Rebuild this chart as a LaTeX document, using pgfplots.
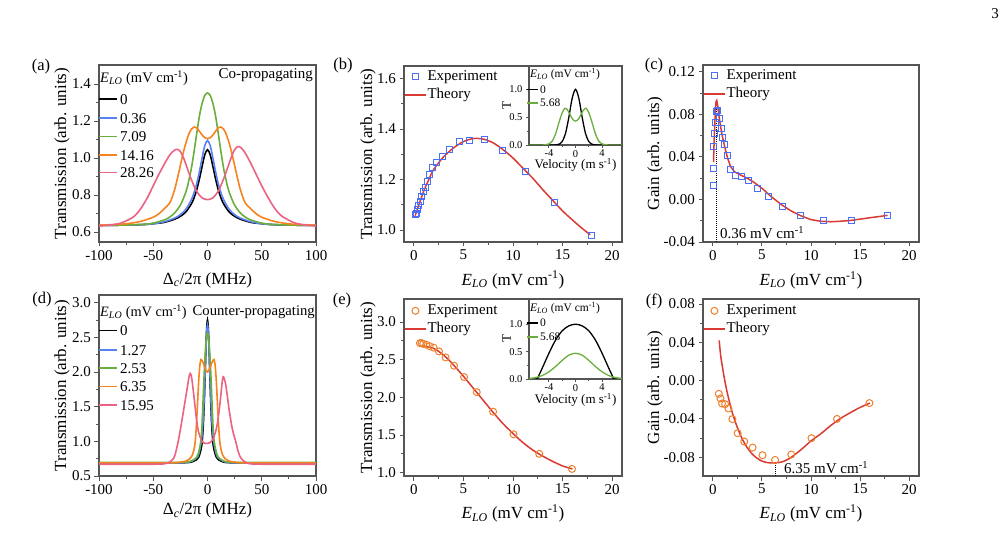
\documentclass[border=0pt]{standalone}
\usepackage{fontspec}
\setmainfont{Liberation Serif}
\usepackage{pgfplots}
\pgfplotsset{compat=1.18}

\definecolor{cblue}{HTML}{5B82F5}
\definecolor{cgreen}{HTML}{6AAE3C}
\definecolor{corange}{HTML}{F7831F}
\definecolor{cpink}{HTML}{EB6283}
\definecolor{cred}{HTML}{D93A32}
\definecolor{sqblue}{HTML}{4C6EF2}
\definecolor{circor}{HTML}{EE7F2C}
\definecolor{frame}{HTML}{555555}

\newcommand{\ELO}{\textit{E}\textsubscript{\textit{LO}}}
\newcommand{\unitE}{(mV cm\textsuperscript{-1})}
\newcommand{\tks}{\fontsize{15}{18}\selectfont}
\newcommand{\lbs}{\fontsize{17}{20}\selectfont}
\newcommand{\ins}{\fontsize{10.5}{12}\selectfont}

\pgfplotsset{
  myaxis/.style={
    scale only axis,
    axis line style={draw=frame, line width=1.1pt},
    tick style={draw=frame, line width=0.9pt},
    tick align=outside,
    xtick pos=bottom, ytick pos=left,
    major tick length=4.5pt, minor tick length=2.6pt,
    minor x tick num=1, minor y tick num=1,
    tick label style={font=\tks},
    scaled ticks=false,
    /pgf/number format/assume math mode=true,
  },
  ylab/.style={every axis y label/.style={at={(axis description cs:#1,0.5)}, rotate=90, anchor=center, font=\lbs}},
  xlab/.style={every axis x label/.style={at={(axis description cs:0.5,#1)}, anchor=center, font=\lbs}},
  yfmt/.style={yticklabel style={/pgf/number format/fixed, /pgf/number format/fixed zerofill, /pgf/number format/precision=#1}},
  mylegend/.style={legend style={at={(axis description cs:0,#1)}, anchor=north west, draw=none, fill=none,
      font=\tks, inner sep=0pt, row sep=3pt,
      nodes={inner sep=0.8pt, text height=10.5pt, text depth=3pt},
      /tikz/every even column/.style={column sep=2pt}},
    legend cell align=left,
    legend image code/.code={\draw[mark repeat=2,mark phase=2,##1] plot coordinates {(1pt,0pt) (11.5pt,0pt) (22pt,0pt)};}},
  inset/.style={myaxis, axis background/.style={fill=white},
    xmin=-7, xmax=7, xtick={-4,0,4}, ytick={0,0.5,1},
    major tick length=3pt, minor tick length=1.8pt,
    tick label style={font=\ins},
    xticklabel style={yshift=1.5pt},
    yfmt=1, ylabel={T}, xlabel={Velocity (m s\textsuperscript{-1})}},
}

\begin{document}
\begin{tikzpicture}
\path[use as bounding box] (0pt,0pt) rectangle (1006pt,549pt);

% ---------------- (a) ----------------
\begin{axis}[myaxis, at={(99pt,307pt)}, anchor=south west, width=217pt, height=177pt,
  xmin=-100, xmax=100, ymin=0.546, ymax=1.503,
  xtick={-100,-50,0,50,100}, ytick={0.6,0.8,1.0,1.2,1.4}, yfmt=1,
  ylab=-0.17, xlab=-0.215,
  ylabel={Transmission (arb. units)}, xlabel={Δ\textsubscript{\textit{c}}/2π (MHz)}]
\addplot[color=black, line width=1.6pt, smooth] coordinates {(-100,0.636) (-80,0.637) (-60,0.640) (-50,0.645) (-40,0.652) (-30,0.670) (-25,0.685) (-20,0.708) (-15,0.751) (-12.5,0.783) (-10,0.827) (-7.5,0.886) (-5,0.954) (-2.5,1.018) (0,1.045) (2.5,1.018) (5,0.954) (7.5,0.886) (10,0.827) (12.5,0.783) (15,0.751) (20,0.708) (25,0.685) (30,0.670) (40,0.652) (50,0.645) (60,0.640) (80,0.637) (100,0.636)};
\addplot[color=cblue, line width=1.6pt, smooth] coordinates {(-100,0.636) (-80,0.637) (-60,0.640) (-50,0.645) (-40,0.655) (-30,0.676) (-25,0.694) (-20,0.722) (-15,0.773) (-12.5,0.810) (-10,0.860) (-7.5,0.925) (-5,1.000) (-2.5,1.067) (0,1.095) (2.5,1.067) (5,1.000) (7.5,0.925) (10,0.860) (12.5,0.810) (15,0.773) (20,0.722) (25,0.694) (30,0.676) (40,0.655) (50,0.645) (60,0.640) (80,0.637) (100,0.636)};
\addplot[color=cgreen, line width=1.6pt, smooth] coordinates {(-100,0.636) (-80,0.637) (-60,0.641) (-50,0.648) (-40,0.665) (-35,0.680) (-30,0.705) (-25,0.745) (-20,0.815) (-17.5,0.870) (-15,0.940) (-12.5,1.030) (-10,1.130) (-7.5,1.225) (-5,1.295) (-2.5,1.338) (0,1.352) (2.5,1.338) (5,1.295) (7.5,1.225) (10,1.130) (12.5,1.030) (15,0.940) (17.5,0.870) (20,0.815) (25,0.745) (30,0.705) (35,0.680) (40,0.665) (50,0.648) (60,0.641) (80,0.637) (100,0.636)};
\addplot[color=corange, line width=1.6pt, smooth] coordinates {(-100,0.637) (-80,0.642) (-70,0.648) (-60,0.660) (-50,0.680) (-45,0.698) (-40,0.725) (-35,0.755) (-32.5,0.790) (-30,0.835) (-27.5,0.895) (-25,0.960) (-22.5,1.025) (-20,1.080) (-17.5,1.125) (-15,1.155) (-12,1.168) (-10,1.163) (-7.5,1.145) (-5,1.125) (-2.5,1.110) (0,1.105) (2.5,1.110) (5,1.125) (7.5,1.145) (10,1.163) (12,1.168) (15,1.155) (17.5,1.125) (20,1.080) (22.5,1.025) (25,0.960) (27.5,0.895) (30,0.835) (32.5,0.790) (35,0.755) (40,0.725) (45,0.698) (50,0.680) (60,0.660) (70,0.648) (80,0.642) (100,0.637)};
\addplot[color=cpink, line width=1.6pt, smooth] coordinates {(-100,0.632) (-90,0.638) (-80,0.648) (-70,0.675) (-65,0.700) (-60,0.740) (-55,0.790) (-50,0.850) (-45,0.910) (-40,0.965) (-35,1.015) (-31,1.040) (-28,1.047) (-25,1.035) (-22,1.000) (-19,0.950) (-15,0.885) (-10,0.820) (-5,0.785) (0,0.775) (5,0.785) (10,0.822) (15,0.890) (19,0.955) (22,1.005) (25,1.045) (28,1.062) (31,1.055) (35,1.025) (40,0.970) (45,0.910) (50,0.850) (55,0.795) (60,0.745) (65,0.705) (70,0.680) (80,0.650) (90,0.638) (100,0.632)};
\end{axis}

% ---------------- (b) ----------------
\begin{axis}[myaxis, at={(404pt,307pt)}, anchor=south west, width=218pt, height=176pt,
  xmin=-1, xmax=21, ymin=0.953, ymax=1.649,
  xtick={0,5,10,15,20}, ytick={1.0,1.2,1.4,1.6}, yfmt=1,
  ylab=-0.165, xlab=-0.215,
  ylabel={Transmission (arb. units)}, xlabel={\ELO{} \unitE},
  mylegend=0.983]
\addplot[only marks, color=sqblue, mark=square, mark size=3pt, mark options={line width=1pt, color=sqblue}] coordinates {
(0.17,1.062) (0.30,1.066) (0.40,1.081) (0.50,1.099) (0.64,1.112) (0.77,1.132) (0.94,1.151) (1.14,1.169) (1.38,1.194) (1.58,1.221) (1.85,1.248) (2.26,1.266) (2.93,1.290) (3.60,1.320) (4.58,1.349) (5.62,1.356) (7.14,1.359) (8.99,1.314) (11.28,1.231) (14.20,1.111) (17.90,0.979)};
\addlegendentry{Experiment}
\addplot[color=cred, line width=1.5pt, smooth] coordinates {
(0.13,1.057) (0.5,1.100) (1,1.155) (1.5,1.200) (2,1.240) (3,1.290) (4,1.325) (5,1.350) (6,1.362) (7,1.360) (8,1.345) (9,1.318) (10,1.285) (11,1.245) (12,1.205) (13,1.160) (14,1.118) (15,1.076) (16,1.040) (17,1.006) (17.8,0.982)};
\addlegendentry{Theory}
\end{axis}

% inset (b)
\begin{axis}[inset, at={(529pt,404pt)}, anchor=south west, width=93pt, height=79pt,
  ymin=0, ymax=1.42,
  ylab=-0.24, xlab=-0.255,
  ylabel style={font=\fontsize{13}{15}\selectfont}, xlabel style={font=\fontsize{13}{15}\selectfont}]
\addplot[color=black, line width=1.3pt, smooth] coordinates {(-7,0) (-3.5,0) (-3,0.002) (-2.5,0.013) (-2,0.063) (-1.5,0.21) (-1,0.50) (-0.5,0.84) (0,1.0) (0.5,0.84) (1,0.50) (1.5,0.21) (2,0.063) (2.5,0.013) (3,0.002) (3.5,0) (7,0)};
\addplot[color=cgreen, line width=1.3pt, smooth] coordinates {(-7,0) (-5,0) (-4.5,0.005) (-4,0.02) (-3.5,0.07) (-3,0.2) (-2.5,0.4) (-2,0.58) (-1.6,0.66) (-1.2,0.63) (-0.8,0.54) (-0.4,0.46) (0,0.43) (0.4,0.46) (0.8,0.54) (1.2,0.63) (1.6,0.66) (2,0.58) (2.5,0.4) (3,0.2) (3.5,0.07) (4,0.02) (4.5,0.005) (5,0) (7,0)};
\end{axis}

% ---------------- (c) ----------------
\begin{axis}[myaxis, at={(703pt,307pt)}, anchor=south west, width=216pt, height=177pt,
  xmin=-1, xmax=21, ymin=-0.04, ymax=0.1263,
  xtick={0,5,10,15,20}, ytick={-0.04,0,0.04,0.08,0.12}, yfmt=2,
  ylab=-0.222, xlab=-0.215,
  ylabel={Gain (arb. units)}, xlabel={\ELO{} \unitE},
  mylegend=0.983]
\addplot[only marks, color=sqblue, mark=square, mark size=3pt, mark options={line width=1pt, color=sqblue}] coordinates {
(0.1,0.013) (0.1,0.0288) (0.1,0.0497) (0.17,0.0622) (0.27,0.0722) (0.34,0.0822) (0.5,0.0831) (0.67,0.0763) (0.84,0.0663) (1.0,0.0581) (1.18,0.0519) (1.45,0.0413) (1.79,0.0284) (2.26,0.0222) (2.87,0.0216) (3.6,0.0175) (4.55,0.0106) (5.63,0.0028) (7.12,-0.0066) (8.94,-0.015) (11.23,-0.02) (14.17,-0.0194) (17.84,-0.015)};
\addlegendentry{Experiment}
\addplot[color=cred, line width=1.5pt] coordinates {
(0.07,0.035) (0.15,0.060) (0.25,0.082) (0.33,0.092) (0.4,0.093) (0.5,0.088) (0.6,0.080) (0.8,0.068) (1.0,0.058) (1.2,0.050) (1.5,0.039) (1.8,0.031) (2.2,0.026) (2.8,0.023) (3.5,0.020) (4.2,0.016) (5,0.0105) (5.9,0.003) (7,-0.005) (8,-0.011) (9,-0.0155) (10,-0.019) (11,-0.0205) (12,-0.021) (13,-0.0205) (14,-0.0198) (15,-0.0185) (16,-0.0172) (17,-0.016) (17.8,-0.015)};
\addlegendentry{Theory}
\addplot[color=black, line width=1pt, densely dotted, forget plot] coordinates {(0.36,-0.04) (0.36,0.085)};
\end{axis}

% ---------------- (d) ----------------
\begin{axis}[myaxis, at={(99pt,73pt)}, anchor=south west, width=217pt, height=181pt,
  xmin=-100, xmax=100, ymin=0.5, ymax=3.11,
  xtick={-100,-50,0,50,100}, ytick={0.5,1.0,1.5,2.0,2.5,3.0}, yfmt=1,
  ylab=-0.17, xlab=-0.19,
  ylabel={Transmission (arb. units)}, xlabel={Δ\textsubscript{\textit{c}}/2π (MHz)}]
\addplot[color=black, line width=1.6pt, smooth] coordinates {(-100,0.69) (-50,0.69) (-30,0.69) (-20,0.692) (-15,0.70) (-10,0.735) (-8,0.775) (-6,0.88) (-5,0.98) (-4,1.2) (-3,1.56) (-2,2.05) (-1,2.55) (0,2.75) (1,2.55) (2,2.05) (3,1.56) (4,1.2) (5,0.98) (6,0.88) (8,0.775) (10,0.735) (15,0.70) (20,0.692) (30,0.69) (50,0.69) (100,0.69)};
\addplot[color=cblue, line width=1.6pt, smooth] coordinates {(-100,0.69) (-30,0.69) (-20,0.695) (-15,0.71) (-10,0.76) (-8,0.82) (-6,0.97) (-5,1.1) (-4,1.32) (-3,1.65) (-2,2.08) (-1,2.5) (0,2.68) (1,2.5) (2,2.08) (3,1.65) (4,1.32) (5,1.1) (6,0.97) (8,0.82) (10,0.76) (15,0.71) (20,0.695) (30,0.69) (100,0.69)};
\addplot[color=cgreen, line width=1.6pt, smooth] coordinates {(-100,0.695) (-30,0.695) (-20,0.70) (-15,0.715) (-10,0.77) (-8,0.85) (-7,0.92) (-6,1.02) (-5,1.25) (-4,1.62) (-3,2.0) (-2,2.3) (-1,2.5) (0,2.56) (1,2.5) (2,2.3) (3,2.0) (4,1.62) (5,1.25) (6,1.02) (7,0.92) (8,0.85) (10,0.77) (15,0.715) (20,0.70) (30,0.695) (100,0.695)};
\addplot[color=corange, line width=1.6pt, smooth] coordinates {(-100,0.69) (-40,0.69) (-30,0.692) (-25,0.70) (-20,0.715) (-17,0.74) (-14,0.80) (-12,0.92) (-11,1.05) (-10,1.3) (-9,1.6) (-8,1.9) (-7,2.1) (-6,2.18) (-4.5,2.15) (-3,2.09) (-1.5,2.03) (0,2.0) (1.5,2.03) (3,2.09) (4.5,2.15) (6,2.18) (7,2.1) (8,1.9) (9,1.6) (10,1.3) (11,1.05) (12,0.92) (14,0.80) (17,0.74) (20,0.715) (25,0.70) (30,0.692) (40,0.69) (100,0.69)};
\addplot[color=cpink, line width=1.6pt, smooth] coordinates {(-100,0.67) (-50,0.67) (-40,0.675) (-35,0.70) (-31,0.76) (-29,0.86) (-27,1.0) (-25,1.17) (-22,1.45) (-19,1.74) (-17,1.93) (-16,1.98) (-15,1.95) (-14,1.85) (-12,1.58) (-10,1.3) (-8,1.12) (-5,1.0) (-2,0.97) (0,0.97) (2,0.98) (5,1.03) (8,1.17) (10,1.35) (12,1.62) (13.5,1.85) (14.5,1.93) (15.5,1.9) (17,1.80) (20,1.45) (23,1.17) (26,1.0) (28,0.87) (30,0.78) (33,0.72) (36,0.69) (40,0.675) (50,0.67) (100,0.67)};
\end{axis}

% ---------------- (e) ----------------
\begin{axis}[myaxis, at={(404pt,73pt)}, anchor=south west, width=218pt, height=177pt,
  xmin=-1, xmax=21, ymin=0.956, ymax=3.306,
  xtick={0,5,10,15,20}, ytick={1.0,1.5,2.0,2.5,3.0}, yfmt=1,
  ylab=-0.165, xlab=-0.21,
  ylabel={Transmission (arb. units)}, xlabel={\ELO{} \unitE},
  mylegend=0.977]
\addplot[only marks, color=circor, mark=o, mark size=3.5pt, mark options={line width=1pt, color=circor}] coordinates {
(0.61,2.72) (0.78,2.72) (0.94,2.71) (1.25,2.70) (1.59,2.68) (1.99,2.66) (2.53,2.61) (3.2,2.53) (4.05,2.42) (5.06,2.27) (6.34,2.07) (7.99,1.81) (10.05,1.51) (12.65,1.25) (15.95,1.05)};
\addlegendentry{Experiment}
\addplot[color=cred, line width=1.5pt, smooth] coordinates {
(0.7,2.68) (1,2.68) (1.5,2.67) (2,2.65) (2.5,2.61) (3,2.56) (3.5,2.50) (4,2.43) (5,2.28) (6,2.12) (7,1.96) (8,1.80) (9,1.65) (10,1.52) (11,1.40) (12,1.30) (13,1.22) (14,1.15) (15,1.09) (16,1.05)};
\addlegendentry{Theory}
\end{axis}

% inset (e)
\begin{axis}[inset, at={(529pt,170pt)}, anchor=south west, width=93pt, height=80pt,
  ymin=0, ymax=1.46,
  ylab=-0.24, xlab=-0.265,
  ylabel style={font=\fontsize{13}{15}\selectfont}, xlabel style={font=\fontsize{13}{15}\selectfont}]
\addplot[color=black, line width=1.3pt, smooth] coordinates {(-7,0) (-5.8,0) (-5.5,0.07) (-5,0.2) (-4,0.47) (-3,0.71) (-2,0.88) (-1,0.97) (0,1.0) (1,0.97) (2,0.88) (3,0.71) (4,0.47) (5,0.2) (5.5,0.07) (5.8,0) (7,0)};
\addplot[color=cgreen, line width=1.3pt, smooth] coordinates {(-7,0.009) (-6,0.026) (-5,0.064) (-4,0.131) (-3,0.228) (-2,0.34) (-1,0.435) (0,0.47) (1,0.435) (2,0.34) (3,0.228) (4,0.131) (5,0.064) (6,0.026) (7,0.009)};
\end{axis}

% ---------------- (f) ----------------
\begin{axis}[myaxis, at={(703pt,73pt)}, anchor=south west, width=216pt, height=177pt,
  xmin=-1, xmax=21, ymin=-0.0996, ymax=0.0852,
  xtick={0,5,10,15,20}, ytick={-0.08,-0.04,0,0.04,0.08}, yfmt=2,
  ylab=-0.222, xlab=-0.21,
  ylabel={Gain (arb. units)}, xlabel={\ELO{} \unitE},
  mylegend=0.977]
\addplot[only marks, color=circor, mark=o, mark size=3.5pt, mark options={line width=1pt, color=circor}] coordinates {
(0.61,-0.0138) (0.78,-0.0186) (0.94,-0.0239) (1.25,-0.0246) (1.59,-0.0291) (1.99,-0.0402) (2.53,-0.0549) (3.2,-0.0636) (4.05,-0.0699) (5.06,-0.0779) (6.34,-0.0828) (7.99,-0.0772) (10.05,-0.0601) (12.65,-0.04) (15.95,-0.0235)};
\addlegendentry{Experiment}
\addplot[color=cred, line width=1.5pt, smooth] coordinates {
(0.65,0.042) (0.8,0.026) (1.0,0.013) (1.2,0.001) (1.5,-0.014) (2.0,-0.034) (2.5,-0.049) (3.0,-0.061) (3.5,-0.070) (4.0,-0.0765) (4.5,-0.081) (5.0,-0.084) (5.5,-0.0855) (6.0,-0.086) (6.5,-0.0858) (7.0,-0.085) (7.5,-0.083) (8.0,-0.080) (9.0,-0.072) (10,-0.063) (11,-0.0555) (12,-0.047) (13,-0.0395) (14,-0.0335) (15,-0.028) (16,-0.0235)};
\addlegendentry{Theory}
\addplot[color=black, line width=1pt, densely dotted, forget plot] coordinates {(6.35,-0.0996) (6.35,-0.0858)};
\end{axis}

% ---------------- legends of (a), (d) and the insets ----------------
\begin{scope}[line width=1.6pt]
\draw[black]   (99pt,449.7pt) -- (117pt,449.7pt);
\draw[cblue]   (99pt,430.7pt) -- (117pt,430.7pt);
\draw[cgreen]  (99pt,412.3pt) -- (117pt,412.3pt);
\draw[corange] (99pt,394pt)   -- (117pt,394pt);
\draw[cpink]   (99pt,376.3pt) -- (117pt,376.3pt);
\draw[black]   (99pt,218.3pt) -- (117pt,218.3pt);
\draw[cblue]   (99pt,199pt)   -- (117pt,199pt);
\draw[cgreen]  (99pt,181pt)   -- (117pt,181pt);
\draw[corange] (99pt,162.3pt) -- (117pt,162.3pt);
\draw[cpink]   (99pt,144pt)   -- (117pt,144pt);
\end{scope}
\begin{scope}[line width=1.3pt]
\draw[black]  (527pt,459.7pt) -- (538pt,459.7pt);
\draw[cgreen] (527pt,446pt)   -- (538pt,446pt);
\draw[black]  (527pt,226pt)   -- (538pt,226pt);
\draw[cgreen] (527pt,212pt)   -- (538pt,212pt);
\end{scope}

% ---------------- text ----------------
\begin{scope}[every node/.style={inner sep=0pt}]
\node[font=\tks, anchor=base west] at (120pt,444.6pt) {0};
\node[font=\tks, anchor=base west] at (120pt,425.6pt) {0.36};
\node[font=\tks, anchor=base west] at (120pt,407.2pt) {7.09};
\node[font=\tks, anchor=base west] at (120pt,388.9pt) {14.16};
\node[font=\tks, anchor=base west] at (120pt,371.2pt) {28.26};
\node[font=\tks, anchor=base west] at (120pt,213.2pt) {0};
\node[font=\tks, anchor=base west] at (120pt,193.9pt) {1.27};
\node[font=\tks, anchor=base west] at (120pt,175.9pt) {2.53};
\node[font=\tks, anchor=base west] at (120pt,157.2pt) {6.35};
\node[font=\tks, anchor=base west] at (120pt,138.9pt) {15.95};
\node[font=\fontsize{11.5}{13}\selectfont, anchor=base west] at (540pt,455.8pt) {0};
\node[font=\fontsize{11.5}{13}\selectfont, anchor=base west] at (540pt,442.1pt) {5.68};
\node[font=\fontsize{11.5}{13}\selectfont, anchor=base west] at (540pt,222.1pt) {0};
\node[font=\fontsize{11.5}{13}\selectfont, anchor=base west] at (540pt,208.1pt) {5.68};
\node[font=\fontsize{16.5}{19}\selectfont] at (41pt,482pt) {(a)};
\node[font=\fontsize{16.5}{19}\selectfont] at (343pt,483pt) {(b)};
\node[font=\fontsize{16.5}{19}\selectfont] at (654pt,483pt) {(c)};
\node[font=\fontsize{16.5}{19}\selectfont] at (42pt,249pt) {(d)};
\node[font=\fontsize{16.5}{19}\selectfont] at (342pt,248pt) {(e)};
\node[font=\fontsize{16.5}{19}\selectfont] at (654pt,248pt) {(f)};
\node[font=\fontsize{14.5}{17}\selectfont, anchor=west] at (100pt,471pt) {\ELO{} \unitE};
\node[font=\tks, anchor=east] at (313pt,474pt) {Co-propagating};
\node[font=\fontsize{14.3}{17}\selectfont, anchor=west] at (100pt,237pt) {\ELO{} \unitE};
\node[font=\fontsize{14.7}{17}\selectfont, anchor=east] at (315pt,237pt) {Counter-propagating};
\node[font=\fontsize{11.5}{13}\selectfont, anchor=west] at (530pt,475pt) {\ELO{} \unitE};
\node[font=\fontsize{11.5}{13}\selectfont, anchor=west] at (530pt,241pt) {\ELO{} \unitE};
\node[font=\tks, anchor=west] at (720pt,316pt) {0.36 mV cm\textsuperscript{-1}};
\node[font=\tks, anchor=west] at (784pt,81pt) {6.35 mV cm\textsuperscript{-1}};
\node[font=\tks] at (995pt,535pt) {3};
\end{scope}
\end{tikzpicture}
\end{document}
